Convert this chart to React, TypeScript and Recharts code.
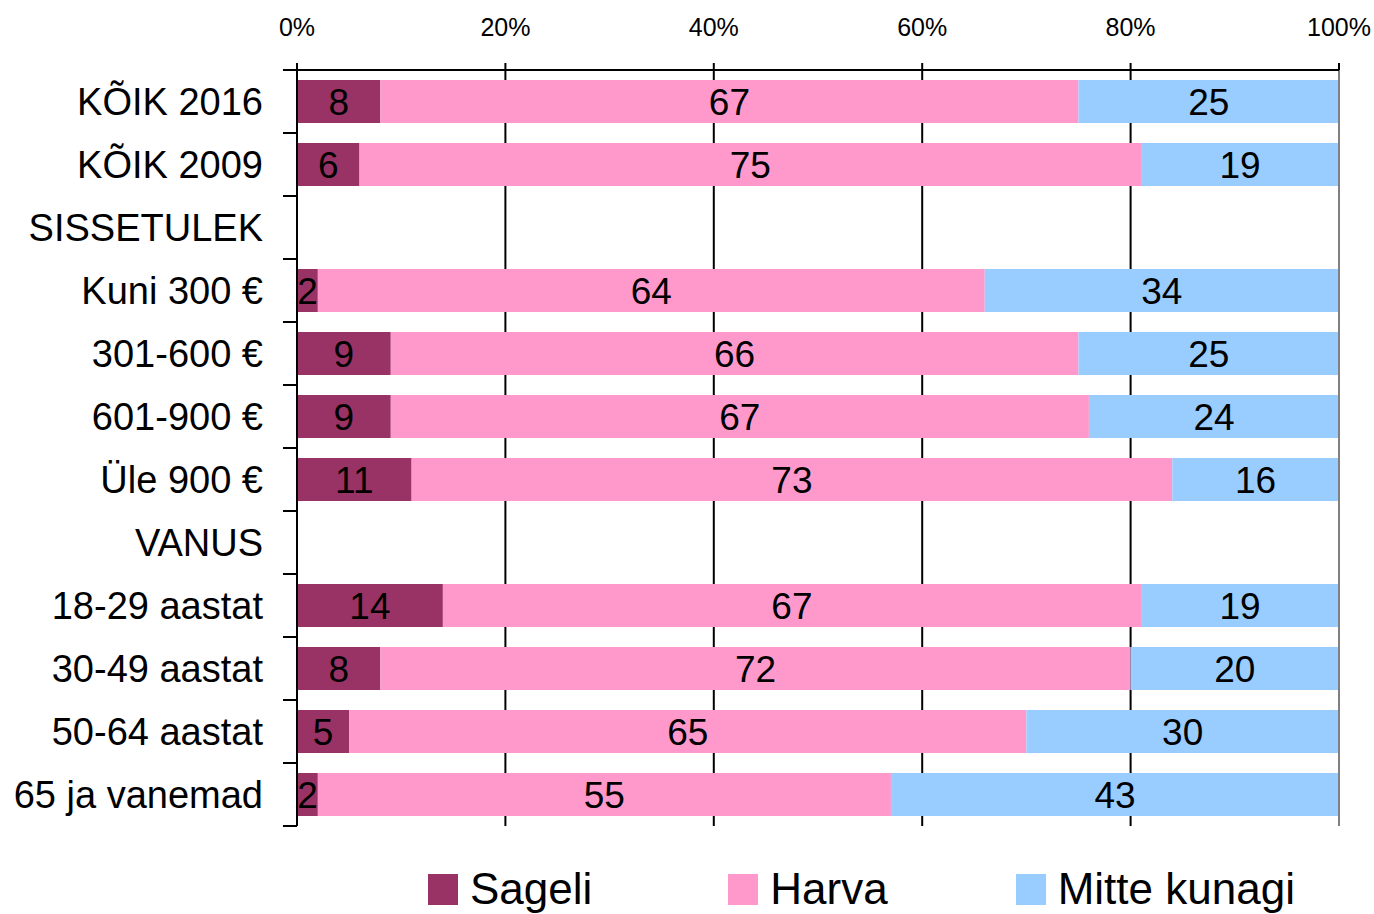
import { BarChart, Bar, XAxis, YAxis, CartesianGrid, LabelList, ReferenceLine, Legend } from "recharts"

const FONT = '"Liberation Sans", Arial, sans-serif'

// ─── data ────────────────────────────────────────────────────────────────────

const categories = [
  "KÕIK 2016", "KÕIK 2009", "SISSETULEK", "Kuni 300 €", "301-600 €", "601-900 €",
  "Üle 900 €", "VANUS", "18-29 aastat", "30-49 aastat", "50-64 aastat", "65 ja vanemad",
]
const sageli = [8, 6, null, 2, 9, 9, 11, null, 14, 8, 5, 2]
const harva = [67, 75, null, 64, 66, 67, 73, null, 67, 72, 65, 55]
const mitteKunagi = [25, 19, null, 34, 25, 24, 16, null, 19, 20, 30, 43]
const xTicks = [0, 20, 40, 60, 80, 100]

const SERIES = [
  { key: "sageli", name: "Sageli", color: "#993366" },
  { key: "harva", name: "Harva", color: "#FF99CC" },
  { key: "mitte", name: "Mitte kunagi", color: "#99CCFF" },
]

const data = categories.map((c, i) => ({
  cat: c, sageli: sageli[i], harva: harva[i], mitte: mitteKunagi[i],
}))

// ─── chart ───────────────────────────────────────────────────────────────────

const W = 1374
const H = 914
const PLOT_H = 826 - 70
const HALF_BAND = PLOT_H / categories.length / 2

function CategoryTick(props: any) {
  const { x, y, payload, index } = props
  const half = payload?.offset || HALF_BAND
  const axisX = x + 20 + 14
  return (
    <g>
      <line x1={axisX - 14} x2={axisX} y1={y - half} y2={y - half} stroke="#000" strokeWidth={2} />
      {index === categories.length - 1 && (
        <line x1={axisX - 14} x2={axisX} y1={y + half} y2={y + half} stroke="#000" strokeWidth={2} />
      )}
      <text x={x} y={y} dy="0.36em" textAnchor="end" fontSize={38} fill="#000" fontFamily={FONT}>
        {payload.value}
      </text>
    </g>
  )
}

const LEGEND_GAPS = [136, 128, 0]

function LegendContent() {
  return (
    <div style={{ height: 88, boxSizing: "border-box", paddingTop: 38, paddingLeft: 428, display: "flex", fontFamily: FONT }}>
      {SERIES.map((s, i) => (
        <div key={s.key} style={{ display: "flex", alignItems: "center", height: 50, marginRight: LEGEND_GAPS[i] }}>
          <span style={{ width: 30, height: 31, background: s.color, marginRight: 12, display: "inline-block" }} />
          <span style={{ fontSize: 44, color: "#000", lineHeight: "50px" }}>{s.name}</span>
        </div>
      ))}
    </div>
  )
}

export default function App() {
  return (
    <div style={{ position: "absolute", left: 0, top: 0, width: W, height: H, background: "#fff" }}>
      <BarChart width={W} height={H} data={data} layout="vertical"
        margin={{ top: 0, right: 35, left: 0, bottom: 0 }} barCategoryGap="16%">
        <CartesianGrid horizontal={false} stroke="#000" strokeWidth={2} />
        <XAxis type="number" orientation="top" domain={[0, 100]} ticks={xTicks} height={70}
          tickFormatter={(v) => `${v}%`} tickSize={7} tickMargin={27}
          axisLine={{ stroke: "#000", strokeWidth: 2 }} tickLine={{ stroke: "#000", strokeWidth: 2 }}
          tick={{ fontSize: 25, fill: "#000", fontFamily: FONT }} interval={0} />
        <YAxis type="category" dataKey="cat" width={297} tickSize={14} tickMargin={20} tickLine={false}
          axisLine={{ stroke: "#000", strokeWidth: 2 }} tick={<CategoryTick />} interval={0} />
        <ReferenceLine x={100} stroke="#808080" strokeWidth={2} />
        <Legend verticalAlign="bottom" content={<LegendContent />} />
        {SERIES.map((s) => (
          <Bar key={s.key} dataKey={s.key} name={s.name} stackId="a" fill={s.color} isAnimationActive={false}>
            <LabelList dataKey={s.key} position="center" fill="#000" fontSize={37} fontFamily={FONT}
              formatter={(v: any) => (v == null ? "" : v)} />
          </Bar>
        ))}
      </BarChart>
    </div>
  )
}
